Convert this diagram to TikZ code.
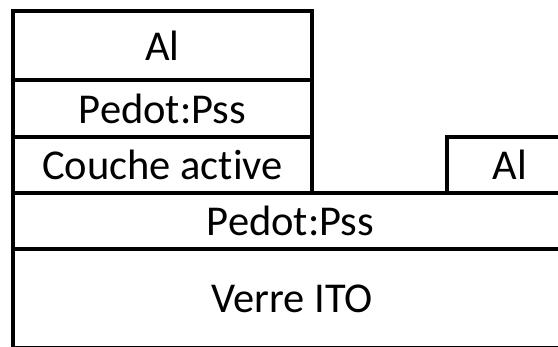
\documentclass[tikz,border=0pt]{standalone}
\usepackage{fontspec}
\setmainfont[Ligatures=NoCommon]{Carlito}
\usetikzlibrary{positioning}

\begin{document}
\begin{tikzpicture}[x=1pt, y=-1pt, font=\fontsize{42.5}{46}\selectfont]

        \tikzset{
            couche/.style={draw=black, line width=4pt, fill=white, inner sep=0pt, outer sep=0pt, align=center},
            gauche/.style={couche, minimum width=299pt}
        }

        \useasboundingbox (0,0) rectangle (558,347);
        \clip (0,0) rectangle (558,347);


        \node[couche, minimum width=558pt, minimum height=99pt] (verre) at (292, 298.5) {Verre ITO};
        \node[couche, minimum width=555pt, minimum height=56pt] (pedot_bas) at (290.5, 221) {Pedot:Pss};


        \node[gauche, minimum height=56pt] (active) at (162.5, 165) {Couche active};
        \node[gauche, minimum height=57pt] (pedot_haut) at (162.5, 108.5) {Pedot:Pss};
        \node[gauche, minimum height=69pt] (al_haut) at (162.5, 45.5) {Al};


        \node[couche, minimum width=126pt, minimum height=56pt] (al_droit) at (510, 165) {Al};

    \end{tikzpicture}
\end{document}
